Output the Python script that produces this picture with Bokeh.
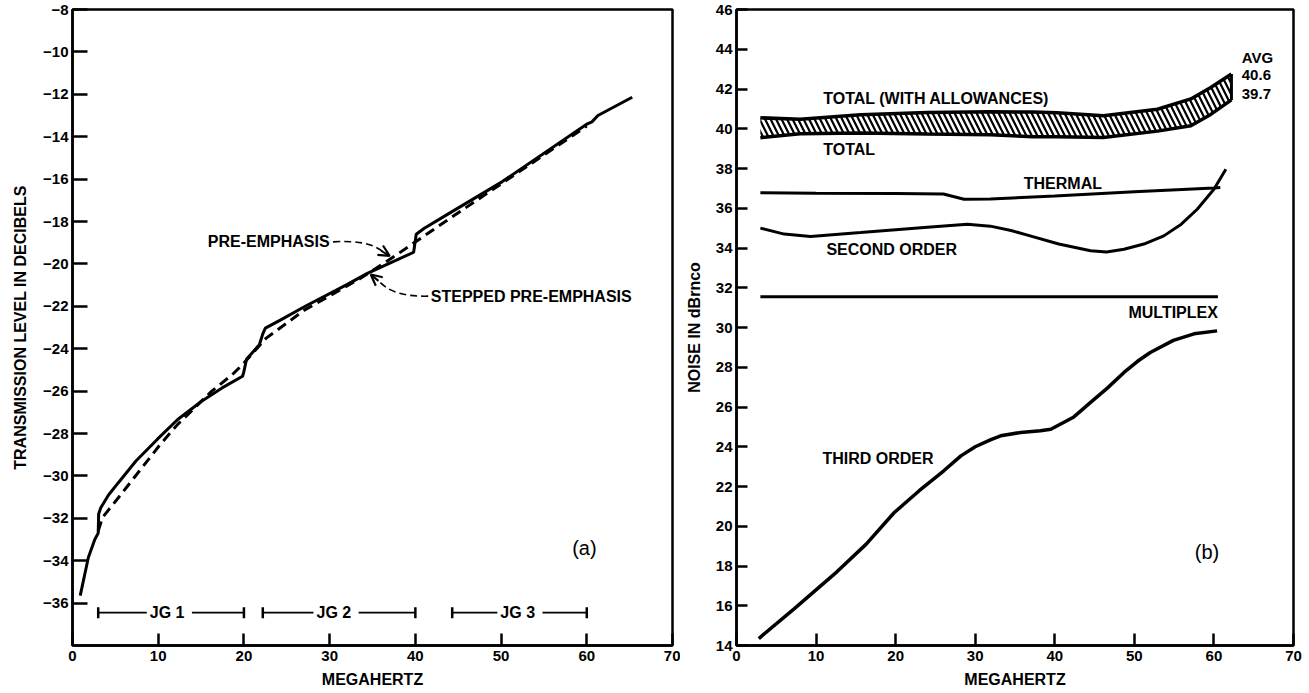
from bokeh.plotting import figure
from bokeh.layouts import row
from bokeh.models import FixedTicker, Label, Arrow, OpenHead, Range1d
from bokeh.embed import file_html
from bokeh.resources import INLINE

FONT = "Liberation Sans"

# ---------------- data: panel (a) ----------------
x_ticks = [0, 10, 20, 30, 40, 50, 60, 70]
a_y_ticks = [-36, -34, -32, -30, -28, -26, -24, -22, -20, -18, -16, -14, -12, -10, -8]

stepped_x = [0.9, 1.85, 2.6, 3.0, 3.05, 3.3, 4.2, 5.35, 7.4, 9.88, 12.27, 15.06, 17.45,
             19.84, 20.0, 20.3, 21.8, 22.2, 22.5, 24.3, 27.1, 31.9, 34.4, 39.8, 40.1,
             41.0, 43.6, 50.1, 60.07, 60.6, 61.3, 65.3]
stepped_y = [-35.65, -33.85, -33.0, -32.7, -31.8, -31.5, -30.9, -30.32, -29.3, -28.28,
             -27.34, -26.48, -25.85, -25.3, -25.07, -24.5, -23.81, -23.3, -23.03, -22.64,
             -22.01, -21.0, -20.45, -19.45, -18.6, -18.33, -17.7, -16.13, -13.39, -13.3,
             -13.0, -12.14]

pre_x = [3.0, 3.5, 5.35, 7.8, 10.27, 12.27, 16.25, 18.65, 19.84, 22.6, 27.1, 33.6, 36.9,
         40.6, 44.3, 50.1, 60.0]
pre_y = [-32.6, -31.96, -31.03, -29.77, -28.5, -27.57, -26.0, -25.22, -24.75, -23.5,
         -22.17, -20.68, -19.82, -18.8, -17.78, -16.2, -13.5]

jg_labels = ["JG  1", "JG  2", "JG  3"]
jg_start = [3.0, 22.2, 44.3]
jg_end = [20.0, 40.0, 60.0]
jg_label_x = [11.3, 30.75, 52.2]
jg_y = -36.45

# ---------------- data: panel (b) ----------------
b_y_ticks = [14, 16, 18, 20, 22, 24, 26, 28, 30, 32, 34, 36, 38, 40, 42, 44, 46]

band_x = [3.0, 8.0, 15.6, 24.0, 31.9, 37.3, 40.3, 46.1, 52.9, 57.1, 59.6, 62.2]
band_upper = [40.55, 40.48, 40.7, 40.82, 40.85, 40.84, 40.8, 40.65, 40.98, 41.5, 42.08, 42.75]
band_lower = [39.55, 39.75, 39.78, 39.73, 39.7, 39.6, 39.6, 39.56, 39.88, 40.15, 40.72, 41.45]

thermal_x = [3, 10, 20, 26, 28.6, 31.9, 40, 50, 60, 60.8]
thermal_y = [36.78, 36.76, 36.74, 36.72, 36.45, 36.46, 36.62, 36.83, 37.02, 37.04]

second_x = [3, 6, 9.3, 15.6, 24, 29, 31.9, 34.5, 36.9, 40.5, 44.5, 46.5, 48.7, 51.2,
            53.7, 55.9, 57.9, 60, 61.5]
second_y = [35.0, 34.7, 34.58, 34.78, 35.05, 35.2, 35.1, 34.88, 34.61, 34.2, 33.86, 33.8,
            33.94, 34.2, 34.61, 35.2, 35.95, 36.96, 37.96]

mux_x = [3, 30, 60.5]
mux_y = [31.55, 31.55, 31.55]

third_x = [2.8, 7.2, 12.65, 16.3, 19.8, 23.0, 26.05, 28.2, 30.0, 31.9, 33.2, 35.7, 38.2,
           39.5, 41.1, 42.4, 44.5, 46.6, 48.7, 50.4, 52, 54.9, 57.5, 60.4]
third_y = [14.35, 15.83, 17.72, 19.1, 20.68, 21.8, 22.79, 23.54, 24.0, 24.35, 24.55, 24.72,
           24.8, 24.88, 25.22, 25.5, 26.23, 26.95, 27.74, 28.3, 28.74, 29.35, 29.68, 29.83]


def style(p, ytick_in, xtick_in, xlabel, ylabel, ystandoff):
    p.outline_line_color = "black"
    p.outline_line_width = 2.5
    p.xgrid.visible = False
    p.ygrid.visible = False
    p.background_fill_color = "white"
    p.border_fill_color = "white"
    for ax in (p.xaxis[0], p.yaxis[0]):
        ax.axis_line_width = 2.5
        ax.axis_line_color = "black"
        ax.major_tick_line_width = 2.5
        ax.major_tick_line_color = "black"
        ax.major_tick_out = 0
        ax.minor_tick_line_color = None
        ax.major_label_text_font = FONT
        ax.major_label_text_font_size = "15px"
        ax.major_label_text_font_style = "bold"
        ax.major_label_text_color = "black"
        ax.axis_label_text_font = FONT
        ax.axis_label_text_font_size = "16px"
        ax.axis_label_text_font_style = "bold"
        ax.axis_label_text_color = "black"
    p.xaxis[0].major_tick_in = xtick_in
    p.yaxis[0].major_tick_in = ytick_in
    p.xaxis[0].ticker = FixedTicker(ticks=x_ticks)
    p.xaxis[0].axis_label = xlabel
    p.yaxis[0].axis_label = ylabel
    p.xaxis[0].major_label_standoff = 5
    p.xaxis[0].axis_label_standoff = 7
    p.yaxis[0].major_label_standoff = 4
    p.yaxis[0].axis_label_standoff = ystandoff


def label(p, x, y, text, align="left", size="16px", bg=None, style="bold"):
    kw = {}
    if bg:
        kw = dict(background_fill_color=bg, padding=3)
    p.add_layout(Label(x=x, y=y, text=text, text_align=align, text_baseline="middle",
                       text_font=FONT, text_font_size=size, text_font_style=style,
                       text_color="black", **kw))


# ---------------- panel (a) ----------------
pa = figure(width=680, height=693, output_backend="svg", toolbar_location=None,
            x_range=Range1d(0, 70), y_range=Range1d(-38, -8),
            min_border_left=72, min_border_right=8, min_border_top=9, min_border_bottom=48)
style(pa, 15, 12, "MEGAHERTZ", "TRANSMISSION LEVEL IN DECIBELS", 11)
pa.yaxis[0].ticker = FixedTicker(ticks=a_y_ticks)

pa.line(pre_x, pre_y, line_color="black", line_width=3, line_dash="10 6")
pa.line(stepped_x, stepped_y, line_color="black", line_width=3)

# JG brackets
for lab, s, e, lx in zip(jg_labels, jg_start, jg_end, jg_label_x):
    pa.segment(x0=[s], y0=[jg_y], x1=[e], y1=[jg_y], line_color="black", line_width=1.8)
    pa.scatter([s, e], [jg_y, jg_y], marker="dash", angle=1.5708, size=11,
               line_color="black", line_width=2.5)
    label(pa, lx, jg_y, lab, align="center", bg="white")

# annotations with curved dashed leaders
label(pa, 30.0, -18.96, "PRE-EMPHASIS", align="right")
pa.bezier(x0=[30.4], y0=[-18.96], x1=[36.3], y1=[-19.45], cx0=[33.0], cy0=[-18.9],
          cx1=[35.0], cy1=[-19.0], line_color="black", line_width=1.6, line_dash="7 4")
pa.add_layout(Arrow(end=OpenHead(size=11, line_width=2.2, line_color="black"),
                    x_start=36.0, y_start=-19.38, x_end=37.0, y_end=-19.62,
                    line_color="black", line_width=2))

label(pa, 41.8, -21.54, "STEPPED PRE-EMPHASIS", align="left")
pa.bezier(x0=[41.5], y0=[-21.52], x1=[35.6], y1=[-20.75], cx0=[38.5], cy0=[-21.55],
          cx1=[36.8], cy1=[-21.3], line_color="black", line_width=1.6, line_dash="7 4")
pa.add_layout(Arrow(end=OpenHead(size=11, line_width=2.2, line_color="black"),
                    x_start=35.7, y_start=-20.8, x_end=34.8, y_end=-20.5,
                    line_color="black", line_width=2))

label(pa, 58.3, -33.38, "(a)", align="left", size="20px", style="normal")

# ---------------- panel (b) ----------------
pb = figure(width=629, height=693, output_backend="svg", toolbar_location=None,
            x_range=Range1d(0, 70), y_range=Range1d(14, 46),
            min_border_left=56, min_border_right=16, min_border_top=9, min_border_bottom=48)
style(pb, 11, 12, "MEGAHERTZ", "NOISE IN dBrnco", 10)
pb.yaxis[0].ticker = FixedTicker(ticks=b_y_ticks)

pb.varea(x=band_x, y1=band_lower, y2=band_upper, fill_color="white",
         hatch_pattern="\\", hatch_color="black", hatch_weight=2.2, hatch_scale=11)
pb.line(band_x, band_upper, line_color="black", line_width=3.5)
pb.line(band_x, band_lower, line_color="black", line_width=3.5)
pb.segment(x0=[band_x[-1]], y0=[band_lower[-1]], x1=[band_x[-1]], y1=[band_upper[-1]],
           line_color="black", line_width=3)

pb.line(thermal_x, thermal_y, line_color="black", line_width=3)
pb.line(second_x, second_y, line_color="black", line_width=3)
pb.line(mux_x, mux_y, line_color="black", line_width=3)
pb.line(third_x, third_y, line_color="black", line_width=3.5)

label(pb, 10.9, 41.5, "TOTAL  (WITH  ALLOWANCES)")
label(pb, 10.9, 38.94, "TOTAL")
label(pb, 36.1, 37.25, "THERMAL")
label(pb, 11.3, 33.94, "SECOND  ORDER")
label(pb, 60.5, 30.75, "MULTIPLEX", align="right")
label(pb, 10.8, 23.41, "THIRD  ORDER")
label(pb, 63.5, 43.6, "AVG", size="15px")
label(pb, 63.5, 42.68, "40.6", size="15px")
label(pb, 63.5, 41.75, "39.7", size="15px")
label(pb, 57.6, 18.68, "(b)", size="20px", style="normal")

layout = row(pa, pb)
open("out.html", "w").write(file_html(layout, INLINE))
